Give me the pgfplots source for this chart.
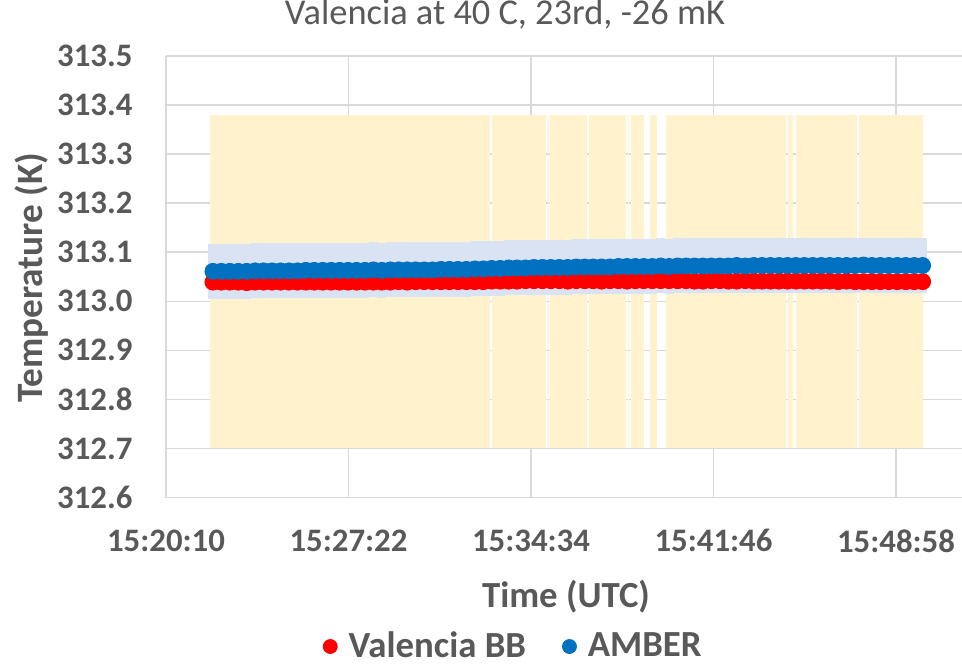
\documentclass[border=0pt]{standalone}
\usepackage{pgfplots}
\pgfplotsset{compat=1.18}
\usepackage{pgfplotstable}
\usepackage{fontspec}
\setmainfont{Carlito}

\definecolor{txtgray}{HTML}{595959}
\definecolor{gridgray}{HTML}{D9D9D9}
\definecolor{bandyel}{HTML}{FFF2CC}
\definecolor{bandblue}{HTML}{DAE3F3}
\definecolor{valred}{HTML}{FF0000}
\definecolor{amblue}{HTML}{0070C0}

% t = seconds after 15:20:10, Valencia BB and AMBER temperatures (K)
\pgfplotstableread{
t    red      blue
111  313.039  313.061
131  313.039  313.061
151  313.039  313.061
171  313.039  313.061
191  313.038  313.061
211  313.039  313.062
231  313.039  313.062
251  313.039  313.062
271  313.039  313.062
291  313.039  313.062
311  313.039  313.062
331  313.039  313.063
351  313.039  313.063
371  313.039  313.063
391  313.039  313.063
411  313.039  313.063
431  313.039  313.063
451  313.039  313.063
471  313.039  313.063
491  313.039  313.064
511  313.039  313.063
531  313.039  313.064
551  313.040  313.064
571  313.039  313.064
591  313.040  313.064
611  313.040  313.064
631  313.040  313.064
651  313.040  313.065
671  313.040  313.065
691  313.040  313.065
711  313.040  313.065
731  313.040  313.066
751  313.040  313.066
771  313.041  313.067
791  313.041  313.067
811  313.041  313.068
831  313.041  313.068
851  313.042  313.068
871  313.042  313.069
891  313.042  313.069
911  313.042  313.069
931  313.042  313.069
951  313.041  313.069
971  313.042  313.070
991  313.042  313.070
1011 313.042  313.070
1031 313.041  313.070
1051 313.042  313.070
1071 313.042  313.071
1091 313.041  313.071
1111 313.042  313.071
1131 313.042  313.071
1151 313.042  313.071
1171 313.042  313.072
1191 313.042  313.071
1211 313.042  313.072
1231 313.042  313.072
1251 313.041  313.072
1271 313.041  313.072
1291 313.042  313.072
1311 313.042  313.072
1331 313.041  313.072
1351 313.041  313.073
1371 313.042  313.072
1391 313.041  313.073
1411 313.041  313.073
1431 313.041  313.073
1451 313.041  313.073
1471 313.041  313.073
1491 313.041  313.073
1511 313.041  313.073
1531 313.041  313.073
1551 313.041  313.073
1571 313.041  313.073
1591 313.040  313.073
1611 313.041  313.073
1631 313.040  313.073
1651 313.040  313.074
1671 313.040  313.073
1691 313.040  313.073
1711 313.040  313.073
1731 313.040  313.073
1751 313.040  313.073
1771 313.040  313.073
1791 313.040  313.073
}\data

% yellow uncertainty band of Valencia BB, one rectangle per run of data
\newcommand\seg[2]{\addplot[forget plot, fill=bandyel, draw=none] coordinates {(#1,312.70) (#1,313.38) (#2,313.38) (#2,312.70)} -- cycle;}

\begin{document}
\begin{tikzpicture}
\begin{axis}[
  at={(0,0)}, anchor=south west,
  scale only axis,
  width=398pt, height=220.75pt,
  xmin=0, xmax=1884.2,
  ymin=312.6, ymax=313.5,
  enlargelimits=false,
  axis x line*=bottom, axis y line*=left,
  axis line style={draw=gridgray, line width=0.75pt, -},
  grid=major,
  grid style={draw=gridgray, line width=0.75pt},
  major tick length=0pt,
  tick style={draw=none},
  xtick={0,432,864,1296,1728},
  xticklabels={15:20:10,15:27:22,15:34:34,15:41:46,15:48:58},
  ytick={312.6,312.7,312.8,312.9,313.0,313.1,313.2,313.3,313.4,313.5},
  /pgf/number format/assume math mode=true,
  yticklabel={\pgfmathprintnumber[fixed,fixed zerofill,precision=1,1000 sep={}]{\tick}},
  ticklabel style={font=\fontsize{16.4}{19}\selectfont\bfseries, text=txtgray, inner sep=0pt},
  yticklabel style={anchor=east, xshift=-16.6pt},
  xticklabel style={anchor=center, yshift=-21.65pt},
  title={Valencia at 40 C, 23rd, -26 mK},
  title style={at={(axis description cs:0.4259,1.0437)}, anchor=base,
    font=\fontsize{18.2}{21}\selectfont, text=txtgray},
  xlabel={Time (UTC)},
  xlabel style={at={(axis description cs:0.5025,-0.2242)}, anchor=center,
    font=\fontsize{18.4}{21}\selectfont\bfseries, text=txtgray},
  ylabel={Temperature (K)},
  ylabel style={at={(axis description cs:-0.169,0.498)}, anchor=center,
    font=\fontsize{18.6}{21}\selectfont\bfseries, text=txtgray},
  legend columns=2,
  legend style={at={(axis description cs:0.435,-0.3375)}, anchor=center,
    draw=none, fill=none, inner sep=0pt,
    nodes={inner sep=0pt},
    font=\fontsize{18.4}{21}\selectfont\bfseries, text=txtgray,
    /tikz/every odd column/.append style={column sep=5.5pt},
    /tikz/every even column/.append style={column sep=18pt}},
]
\seg{104.2}{768.1}
\seg{771.7}{899.5}
\seg{903.1}{905.4}
\seg{909.0}{996.6}
\seg{1001.3}{1088.9}
\seg{1092.4}{1095.3}
\seg{1100.2}{1130.3}
\seg{1145.7}{1162.9}
\seg{1183.6}{1466.4}
\seg{1473.1}{1484.9}
\seg{1490.6}{1635.2}
\seg{1640.4}{1792.6}

% AMBER uncertainty as error bars
\addplot[forget plot, draw=none, mark=none,
  error bars/.cd, y dir=both, y fixed=0.056, error mark=none,
  error bar style={draw=bandblue, line width=4.5pt}]
  table[x=t, y=blue] {\data};

\addplot[only marks, mark=*, mark size=4pt, color=valred,
  mark options={draw=none, fill=valred},
  legend image code/.code={\fill[valred] (0pt,0pt) circle (3.5pt);}]
  table[x=t, y=red] {\data};
\addlegendentry{Valencia BB}

\addplot[only marks, mark=*, mark size=4pt, color=amblue,
  mark options={draw=none, fill=amblue},
  legend image code/.code={\fill[amblue] (0pt,0pt) circle (3.5pt);}]
  table[x=t, y=blue] {\data};
\addlegendentry{AMBER}
\end{axis}
\pgfresetboundingbox
\path[use as bounding box] (-83pt,-83.25pt) rectangle (398pt,248.75pt);
\end{tikzpicture}
\end{document}
